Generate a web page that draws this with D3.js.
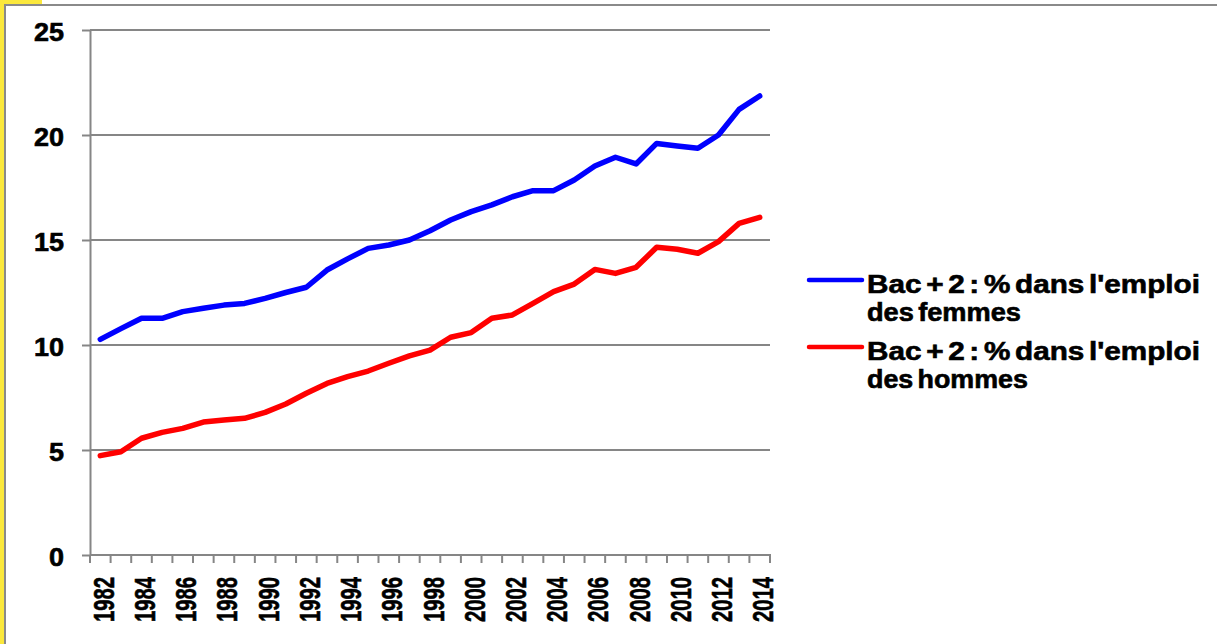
<!DOCTYPE html>
<html>
<head>
<meta charset="utf-8">
<script src="https://cdn.jsdelivr.net/npm/d3@7"></script>
<style>
  body { margin: 0; background: #fff; }
  svg { display: block; font-family: "Liberation Sans", Arial, sans-serif; font-weight: bold; }
  text { stroke: #000; stroke-width: 0.6px; }
</style>
</head>
<body>
<svg id="chart" width="1217" height="644"></svg>
<script>
const years = d3.range(1982, 2015);
const femmes = [10.27, 10.78, 11.27, 11.27, 11.59, 11.75, 11.9, 11.98, 12.22, 12.5,
  12.75, 13.57, 14.1, 14.6, 14.76, 15.0, 15.44, 15.95, 16.35, 16.67,
  17.06, 17.35, 17.35, 17.86, 18.52, 18.94, 18.62, 19.6, 19.48, 19.37,
  20.0, 21.22, 21.86];
const hommes = [4.73, 4.92, 5.56, 5.84, 6.03, 6.33, 6.43, 6.51, 6.79, 7.19,
  7.7, 8.17, 8.49, 8.76, 9.13, 9.48, 9.76, 10.37, 10.59, 11.27,
  11.43, 11.98, 12.54, 12.9, 13.6, 13.41, 13.7, 14.65, 14.56, 14.37,
  14.92, 15.79, 16.08];
const yTicks = [0, 5, 10, 15, 20, 25];
const xLabels = years.filter(y => y % 2 === 0);
const legendLabels = [
  ["Bac + 2 : % dans l'emploi", "des femmes"],
  ["Bac + 2 : % dans l'emploi", "des hommes"]
];
const colors = ["#0000ff", "#ff0000"];

const svg = d3.select('#chart');

// frame
svg.append('rect').attr('x', 0).attr('y', 0).attr('width', 42).attr('height', 644).attr('fill', '#fbe83c');
svg.append('rect').attr('x', 4).attr('y', 4).attr('width', 1213).attr('height', 640).attr('fill', '#fff');
svg.append('line').attr('x1', 4).attr('x2', 1217).attr('y1', 5).attr('y2', 5).attr('stroke', '#8a8a8a').attr('stroke-width', 2);
svg.append('line').attr('x1', 5).attr('x2', 5).attr('y1', 4).attr('y2', 644).attr('stroke', '#8a8a8a').attr('stroke-width', 2);

const x = d3.scaleBand().domain(years).range([90, 770]).padding(0);
const y = d3.scaleLinear().domain([0, 25]).range([555, 30]);
const cx = d => x(d) + x.bandwidth() / 2;
const grey = '#868686';

// gridlines
svg.append('g').selectAll('line')
  .data(yTicks.filter(t => t > 0))
  .enter().append('line')
  .attr('x1', 90).attr('x2', 770)
  .attr('y1', d => y(d)).attr('y2', d => y(d))
  .attr('stroke', grey).attr('stroke-width', 2);

// y axis
const yAxis = svg.append('g')
  .attr('transform', 'translate(90,0)')
  .call(d3.axisLeft(y).tickValues(yTicks).tickSize(8).tickSizeOuter(0).tickPadding(18));
yAxis.select('.domain').attr('stroke', grey).attr('stroke-width', 2);
yAxis.selectAll('.tick line').attr('stroke', grey).attr('stroke-width', 2);
yAxis.selectAll('.tick text')
  .attr('font-size', 25).attr('font-weight', 'bold').attr('fill', '#000')
  .attr('font-family', '"Liberation Sans", Arial, sans-serif')
  .attr('textLength', d => d >= 10 ? 30 : 15)
  .attr('lengthAdjust', 'spacingAndGlyphs')
  .attr('dy', '0.4em');

// x axis
svg.append('line').attr('x1', 90).attr('x2', 771).attr('y1', 555).attr('y2', 555)
  .attr('stroke', grey).attr('stroke-width', 2);
const bounds = years.map(d => x(d)).concat([x.range()[1]]);
svg.append('g').selectAll('line')
  .data(bounds)
  .enter().append('line')
  .attr('x1', d => d).attr('x2', d => d)
  .attr('y1', 555).attr('y2', 563)
  .attr('stroke', grey).attr('stroke-width', 2);

svg.append('g').selectAll('text')
  .data(xLabels)
  .enter().append('text')
  .attr('transform', d => `translate(${cx(d)},577) rotate(-90)`)
  .attr('text-anchor', 'end')
  .attr('dy', 13.5)
  .attr('font-size', 29)
  .attr('textLength', 45)
  .attr('lengthAdjust', 'spacingAndGlyphs')
  .text(d => d);

// lines
const line = d3.line().x((d, i) => cx(years[i])).y(d => y(d));
[femmes, hommes].forEach((s, i) => {
  svg.append('path')
    .datum(s)
    .attr('d', line)
    .attr('fill', 'none')
    .attr('stroke', colors[i])
    .attr('stroke-width', 5.5)
    .attr('stroke-linejoin', 'round')
    .attr('stroke-linecap', 'round');
});

// legend
const legendY = [280, 347];
const lineWidths = [333, 154, 161];
legendLabels.forEach((lab, i) => {
  const g = svg.append('g');
  g.append('line')
    .attr('x1', 809).attr('x2', 862)
    .attr('y1', legendY[i]).attr('y2', legendY[i])
    .attr('stroke', colors[i]).attr('stroke-width', 4.5).attr('stroke-linecap', 'round');
  lab.forEach((t, j) => {
    g.append('text')
      .attr('x', 867)
      .attr('y', legendY[i] + 13 + j * 28)
      .attr('font-size', 25)
      .attr('word-spacing', -3)
      .attr('textLength', j === 0 ? lineWidths[0] : lineWidths[i + 1])
      .attr('lengthAdjust', 'spacingAndGlyphs')
      .text(t);
  });
});
</script>
</body>
</html>
